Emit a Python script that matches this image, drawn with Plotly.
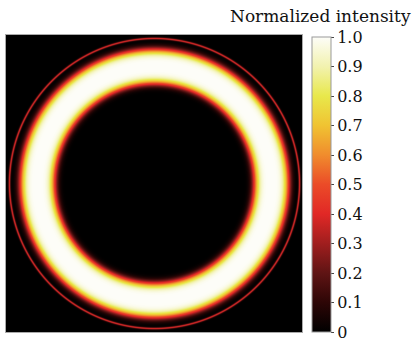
import numpy as np
import plotly.graph_objects as go

# Values (normalized coordinates, plot spans -1..1)
ring_radius = 0.79      # centre radius of bright ring
ring_halfwidth = 0.112  # half width at half maximum
ring_order = 4.5        # flat-top (super-Gaussian) order
halo_radius = 0.98      # thin outer ring radius
halo_sigma = 0.0055     # thin outer ring width
halo_peak = 0.36        # thin outer ring intensity
grid_n = 297

tick_vals = [0, 0.1, 0.2, 0.3, 0.4, 0.5, 0.6, 0.7, 0.8, 0.9, 1.0]
tick_text = ["0", "0.1", "0.2", "0.3", "0.4", "0.5", "0.6", "0.7", "0.8", "0.9", "1.0"]

colorscale = [
    [0.0, "rgb(0,0,0)"],
    [0.1, "rgb(45,6,6)"],
    [0.2, "rgb(95,20,20)"],
    [0.3, "rgb(160,30,30)"],
    [0.4, "rgb(225,40,38)"],
    [0.5, "rgb(235,75,40)"],
    [0.6, "rgb(240,140,45)"],
    [0.7, "rgb(240,195,50)"],
    [0.8, "rgb(232,232,75)"],
    [0.9, "rgb(242,242,175)"],
    [1.0, "rgb(253,253,248)"],
]

coords = np.linspace(-1, 1, grid_n)
X, Y = np.meshgrid(coords, coords)
R = np.sqrt(X**2 + Y**2)
z = np.exp(-np.log(2) * np.abs((R - ring_radius) / ring_halfwidth) ** ring_order)
z = z + halo_peak * np.exp(-0.5 * ((R - halo_radius) / halo_sigma) ** 2)
z = np.clip(z, 0, 1).round(3)

fig = go.Figure(go.Heatmap(
    x=coords, y=coords, z=z,
    colorscale=colorscale, zmin=0, zmax=1,
    colorbar=dict(
        thickness=19, thicknessmode="pixels",
        len=295, lenmode="pixels",
        x=1.034, xanchor="left", y=0, yanchor="bottom",
        xpad=0, ypad=0,
        outlinewidth=1, outlinecolor="#999999",
        tickvals=tick_vals, ticktext=tick_text,
        ticks="outside", ticklen=3, tickcolor="#444444",
        tickfont=dict(family="DejaVu Serif", size=16, color="#111111"),
    ),
))

fig.update_xaxes(range=[-1, 1], showticklabels=False, showgrid=False, zeroline=False,
                 showline=True, linecolor="#aaaaaa", linewidth=1, mirror=True, ticks="")
fig.update_yaxes(range=[-1, 1], showticklabels=False, showgrid=False, zeroline=False,
                 showline=True, linecolor="#aaaaaa", linewidth=1, mirror=True, ticks="")

fig.add_annotation(
    text="Normalized intensity", xref="paper", yref="paper",
    x=1.375, y=1.0, xanchor="right", yanchor="bottom", yshift=7,
    showarrow=False,
    font=dict(family="DejaVu Serif", size=17, color="#111111"),
)

fig.update_layout(
    width=417, height=344,
    margin=dict(l=6, r=115, t=35, b=12),
    paper_bgcolor="white", plot_bgcolor="black",
)

fig.write_html("out.html")
